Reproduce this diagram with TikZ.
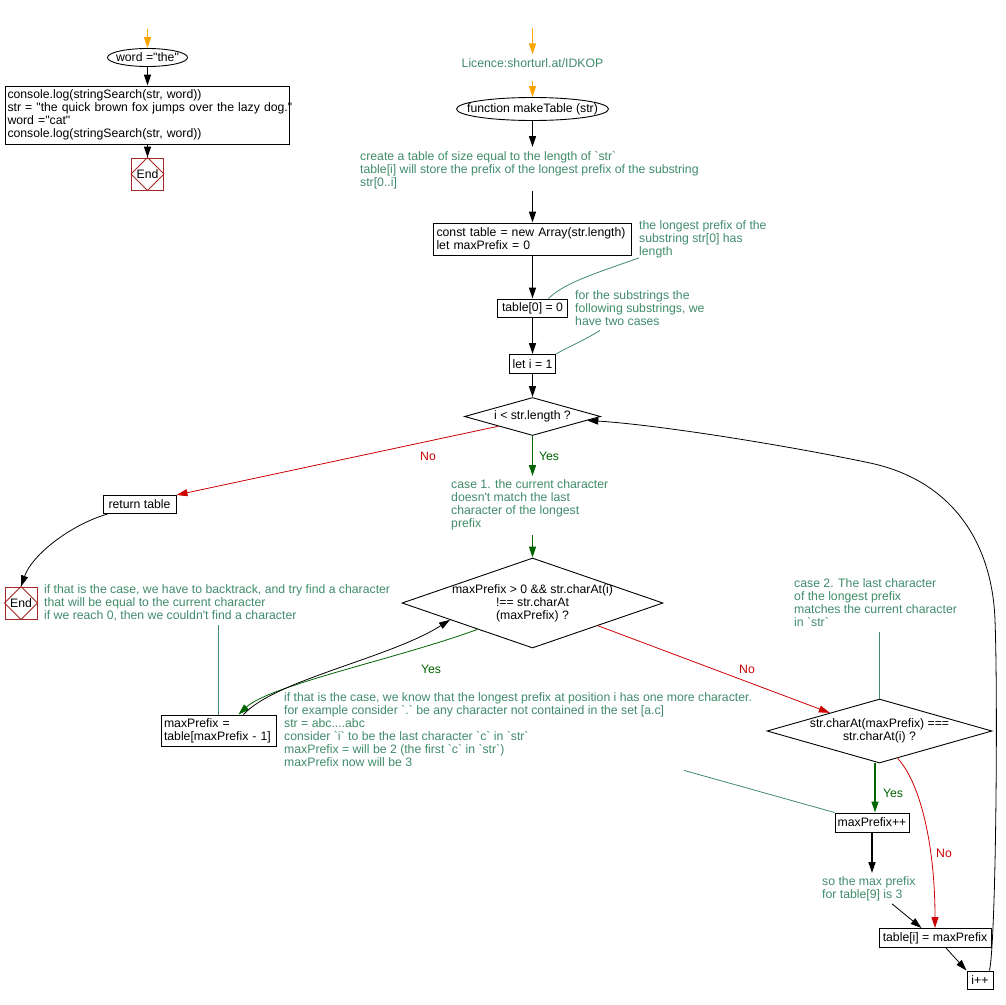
\documentclass[tikz,border=0pt]{standalone}
\usepackage{fontspec}
\setmainfont{Liberation Sans}[Ligatures=TeXOff]
\usetikzlibrary{arrows.meta,shapes.geometric,calc}
\definecolor{cgreen}{RGB}{64,140,108}
\definecolor{ygreen}{RGB}{0,100,0}
\definecolor{nred}{RGB}{204,0,0}
\definecolor{oran}{RGB}{255,165,0}
\definecolor{endred}{RGB}{165,40,40}
\begin{document}
\begin{tikzpicture}[x=1pt,y=-1pt,
 every node/.style={font=\fontsize{12.25}{13}\selectfont},
 txt/.style={inner sep=0pt},
 cmt/.style={inner sep=0pt, text=cgreen, align=left, anchor=north west},
 box/.style={draw, line width=1pt, inner xsep=3pt, inner ysep=2pt},
 lbox/.style={box, align=left},
 ell/.style={ellipse, draw, line width=0.9pt, inner sep=0pt},
 dia/.style={diamond, draw, line width=0.9pt, inner sep=0pt},
 endbox/.style={draw=endred, line width=1pt, minimum width=32pt, minimum height=32pt, inner sep=0pt},
 arr/.style={-{Triangle[length=11pt,width=7pt]}, line width=1.4pt},
 tarr/.style={-{Triangle[length=11pt,width=7pt]}, line width=0.8pt},
 oarr/.style={arr, oran},
 garr/.style={arr, ygreen},
 tgarr/.style={tarr, ygreen},
 rarr/.style={tarr, nred},
 cline/.style={cgreen, line width=0.8pt},
 ylab/.style={text=ygreen, inner sep=0pt},
 nlab/.style={text=nred, inner sep=0pt},
]
\fill[white] (0,0) rectangle (1006,1004);
\path[use as bounding box] (0,0) rectangle (1006,1004);

% ---------- left column ----------
\coordinate (sL) at (147.5,29);
\node[ell, minimum width=80pt, minimum height=18pt] (w) at (147.5,57.5) {};
\node[txt] (wt) at (w.center) {word ="the"};
\node[lbox, inner xsep=2pt, text width=280pt, minimum height=58pt] (cl) at (147.5,115) {\mbox{console.log(stringSearch(str, word))}\\\mbox{str = "the quick brown fox jumps over the lazy dog."}\\\mbox{word ="cat"}\\\mbox{console.log(stringSearch(str, word))}};
\node[endbox] (e1) at (147.5,174) {End};
\draw[endred, line width=0.8pt] (e1.north) -- (e1.east) -- (e1.south) -- (e1.west) -- cycle;
\draw[oarr] (sL) -- (w);
\draw[arr] (w) -- (cl);
\draw[arr] (cl) -- (e1);

% ---------- main column ----------
\coordinate (sC) at (532.5,28);
\node[txt, text=cgreen] (lic) at (532.5,63) {Licence:shorturl.at/IDKOP};
\draw[oarr] (sC) -- ([yshift=4pt]lic.north);
\node[ell, minimum width=152pt, minimum height=23pt] (fn) at (532.5,109) {};
\node[txt] (fnt) at (fn.center) {function makeTable (str)};
\draw[oarr] ([yshift=-13pt]lic.south) -- (fn);

\node[cmt] (c1) at (360,151) {create a table of size equal to the length of `str`\\table[i] will store the prefix of the longest prefix of the substring\\str[0..i]};
\path (fn |- c1.north) ++(0,-4) coordinate (c1top);
\path (fn |- c1.south) ++(0,2.5) coordinate (c1bot);
\draw[arr] (fn) -- (c1top);

\node[lbox, text width=192pt, minimum height=32pt] (ct) at (532.5,239) {\mbox{const table = new Array(str.length)}\\let maxPrefix = 0};
\draw[arr] (c1bot) -- (ct);

\node[cmt] (c2) at (639,220) {the longest prefix of the\\substring str[0] has\\length};
\node[box, minimum width=70pt, minimum height=18pt, inner sep=0pt] (t0) at (532.5,308) {table[0] = 0};
\draw[arr] (ct) -- (t0);
\draw[cline] (c2.south west) .. controls (600,272) and (565,282) .. ([xshift=16pt]t0.north);

\node[cmt] (c3) at (575,290) {for the substrings the\\following substrings, we\\have two cases};
\node[box, minimum width=46pt, minimum height=19pt, inner sep=0pt] (li) at (532.5,364) {let i = 1};
\draw[arr] (t0) -- (li);
\path (c3.south west) ++(25,5) coordinate (c3a);
\draw[cline] (c3a) .. controls (585,340) and (568,347) .. (li.north east);

\node[dia, minimum width=136pt, minimum height=38pt] (d1) at (532.5,416.5) {};
\node[txt] (d1t) at (d1.center) {i < str.length ?};
\draw[arr] (li) -- (d1);

\node[box, minimum width=73pt, minimum height=18pt, inner sep=0pt] (rt) at (139.5,504.5) {return table};
\draw[rarr] (d1.south west) -- (rt.north east);
\node[nlab] (no1) at (428,456) {No};

\node[cmt] (c4) at (451,479) {case 1. the current character\\doesn't match the last\\character of the longest\\prefix};
\path (d1.south |- c4.north) ++(0,-3) coordinate (c4top);
\path (d1.south |- c4.south) ++(0,5) coordinate (c4bot);
\draw[garr] (d1.south) -- (c4top);
\node[ylab] (yes1) at (549,456) {Yes};

\node[dia, minimum width=261pt, minimum height=90pt] (d2) at (532.5,603) {};
\node[txt, align=center] (d2t) at (d2.center) {maxPrefix > 0 \&\& str.charAt(i)\\!== str.charAt\\(maxPrefix) ?};
\draw[garr] (c4bot) -- (d2);

% ---------- End (left) ----------
\node[endbox] (e2) at (21,603) {End};
\draw[endred, line width=0.8pt] (e2.north) -- (e2.east) -- (e2.south) -- (e2.west) -- cycle;
\draw[tarr] ([xshift=5pt]rt.south west) .. controls (70,525) and (32,555) .. (e2.north);

\node[cmt] (c5) at (44,584) {if that is the case, we have to backtrack, and try find a character\\that will be equal to the current character\\if we reach 0, then we couldn't find a character};
\node[lbox, text width=109pt, minimum height=31pt] (mp) at (218.5,730.5) {maxPrefix =\\\mbox{table[maxPrefix - 1]}};
\path (mp.north |- c5.south) ++(0,4) coordinate (c5a);
\draw[cline] (c5a) -- (mp.north);

\draw[tgarr] ($(d2.west)!0.58!(d2.south)$) .. controls (400,658) and (270,685) .. ([xshift=20pt]mp.north);
\draw[tarr] ([xshift=25pt]mp.north) .. controls (275,680) and (390,658) .. ($(d2.west)!0.37!(d2.south)$);
\node[ylab] (yes2) at (431,669) {Yes};

\node[cmt] (c8) at (284,692) {if that is the case, we know that the longest prefix at position i has one more character.\\for example consider `.` be any character not contained in the set [a.c]\\str = abc....abc\\consider `i` to be the last character `c` in `str`\\maxPrefix = will be 2 (the first `c` in `str`)\\maxPrefix now will be 3};

% ---------- right part ----------
\node[cmt] (c6) at (794,578) {case 2. The last character\\of the longest prefix\\matches the current character\\in `str`};
\node[dia, minimum width=225pt, minimum height=64pt] (dd) at (879.5,731) {};
\node[txt, align=center] (ddt) at (dd.center) {str.charAt(maxPrefix) ===\\str.charAt(i) ?};
\path (dd.north |- c6.south) ++(0,6) coordinate (c6a);
\draw[cline] (c6a) -- (dd.north);

\draw[rarr] (d2.south east) -- ($(dd.west)!0.56!(dd.north)$);
\node[nlab] (no2) at (747,669) {No};

\node[box, minimum width=74pt, minimum height=19pt, inner sep=0pt] (mpp) at (872,822.5) {maxPrefix++};
\path ([xshift=-4.5pt]dd.south) coordinate (ddy);
\draw[garr] (ddy) -- (ddy |- mpp.north);
\node[ylab] (yes3) at (893,793) {Yes};

\path (c8.south west) ++(400,4) coordinate (c8a);
\draw[cline] (c8a) -- (mpp.north west);

\node[cmt] (c7) at (822,876) {so the max prefix\\for table[9] is 3};
\path (mpp |- c7.north) ++(0,-3) coordinate (c7top);
\draw[arr] (mpp) -- (c7top);

\node[box, minimum width=112pt, minimum height=19pt, inner sep=0pt] (ti) at (935,938) {table[i] = maxPrefix};
\path (c7.south west) ++(70,3) coordinate (c7a);
\draw[tarr] (c7a) -- ($(ti.north west)!0.38!(ti.north east)$);
\draw[rarr] ($(dd.east)!0.84!(dd.south)$) .. controls (922,785) and (935,850) .. (ti.north);
\node[nlab] (no3) at (944,853) {No};

\node[box, minimum width=26pt, minimum height=18pt, inner sep=0pt] (ipp) at (980,980) {i++};
\draw[tarr] ([xshift=11pt]ti.south) -- (ipp.north west);
\draw[tarr] ([xshift=-4pt]ipp.north east) .. controls (996,940) and (998,700) .. (995,620)
  .. controls (992,540) and (950,480) .. (870,463)
  .. controls (790,446) and (660,425) .. ($(d1.east)!0.2!(d1.south)$);
\end{tikzpicture}
\end{document}
